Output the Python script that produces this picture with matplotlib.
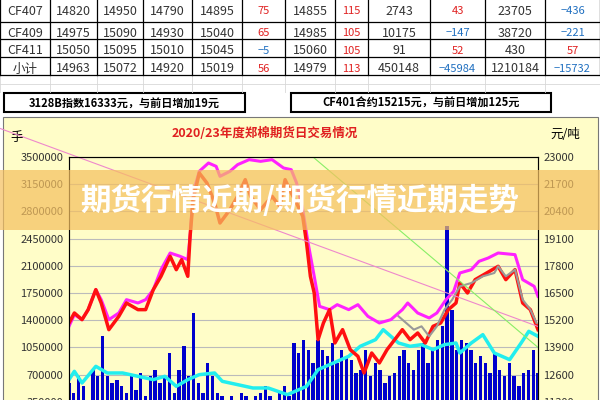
import matplotlib
matplotlib.use('Agg')
import matplotlib.pyplot as plt
from matplotlib.patches import Rectangle
import numpy as np

plt.rcParams['font.family'] = ['Noto Sans CJK SC', 'DejaVu Sans']

# table at the top
table_rows = [
    ['CF407', '14820', '14950', '14790', '14895', '75', '14855', '115', '2743', '43', '23705', '-436'],
    ['CF409', '14975', '15090', '14930', '15040', '65', '14985', '105', '10175', '-147', '38720', '-221'],
    ['CF411', '15050', '15095', '15010', '15045', '-5', '15060', '105', '91', '52', '430', '57'],
    ['小计', '14963', '15072', '14920', '15019', '56', '14979', '113', '450148', '-45984', '1210184', '-15732'],
]
colored_cols = [5, 7, 9, 11]

box_left = '3128B指数16333元，与前日增加19元'
box_right = 'CF401合约15215元，与前日增加125元'
chart_title = '2020/23年度郑棉期货日交易情况'
banner = '期货行情近期/期货行情近期走势'

# price lines (yuan/ton) by trading day
mag_day = [0, 7, 17, 25, 35, 42, 52, 65, 75, 90, 100, 110, 120, 132, 145, 155, 158, 162, 170, 182,
           192, 197, 210, 220, 235, 250, 265, 280, 290, 297, 305, 312, 320, 327, 340, 350, 365, 377, 390, 405,
           420, 435, 442, 455, 470, 480, 492, 502, 510, 525, 535, 547, 560, 582, 592, 607, 612]
mag_price = [14907, 15465, 15226, 15704, 16660, 16182, 15226, 15545, 16182, 16023, 16182, 16660, 17616, 18412,
             18253, 18094, 19209, 21280, 22315, 22713, 22554, 22076, 22315, 22634, 22873, 22793, 22873, 22474,
             22395, 21757, 20483, 18890, 17297, 15863, 15704, 15943, 15704, 15943, 15386, 15067, 15226, 15704,
             16023, 15545, 15306, 15545, 16182, 16580, 17456, 17616, 18014, 18173, 18412, 18333, 17138, 16819, 16341]

red_day = [0, 7, 17, 25, 35, 42, 52, 65, 75, 90, 100, 110, 120, 132, 140, 147, 155, 158, 162, 170,
           180, 190, 197, 210, 220, 230, 237, 250, 265, 275, 282, 290, 297, 305, 310, 315, 320, 325, 332, 340,
           347, 357, 367, 377, 385, 395, 405, 415, 425, 435, 445, 455, 465, 475, 485, 495, 505, 510, 520, 530,
           545, 560, 570, 582, 592, 602, 612]
red_price = [15067, 15545, 15226, 15704, 16660, 16023, 14748, 15386, 16023, 15704, 15704, 16660, 17297, 18253,
             17616, 18094, 17297, 19209, 20961, 22235, 21757, 20802, 19846, 20483, 21120, 21917, 21120, 20483,
             21120, 20642, 21917, 21280, 20802, 20164, 18890, 17297, 16500, 14270, 15067, 15704, 14111, 14748,
             13792, 13474, 12677, 13633, 13155, 13792, 14270, 14748, 14270, 14589, 14111, 14907, 15067, 15704,
             16023, 16978, 16500, 17138, 17456, 17775, 17138, 17616, 16023, 15704, 14748]

grey_day = [430, 440, 450, 460, 470, 480, 490, 500, 510, 525, 540, 555, 560, 570, 582, 592, 602, 610]
grey_price = [15386, 15067, 14748, 14907, 14429, 14907, 15704, 16182, 16819, 16978, 17297, 17456, 17775,
              17297, 17616, 16182, 15704, 15067]

cyan_day = [0, 7, 17, 35, 50, 70, 90, 110, 125, 140, 155, 170, 190, 200, 220, 240, 260, 285, 310, 325,
            345, 365, 380, 400, 410, 420, 430, 445, 460, 475, 490, 505, 510, 525, 540, 555, 575, 590, 600, 612]
cyan_price = [12359, 12757, 12200, 12996, 12677, 12677, 12518, 12359, 12518, 12040, 12359, 12598, 12677, 12279,
              12120, 11960, 11960, 11642, 12040, 12837, 13155, 13474, 13952, 14270, 14748, 14429, 14111, 13952,
              14031, 13792, 14031, 14111, 13633, 14111, 14509, 13633, 13314, 14111, 14668, 14429]

# daily volume, thousand lots
volume_k = [592, 463, 678, 549, 377, 763, 678, 1192, 678, 592, 635, 549, 463, 678, 506, 721, 420, 678, 763, 592,
            678, 978, 463, 763, 1064, 678, 1493, 592, 463, 849, 678, 463, 420, 377, 420, 377, 463, 420, 377, 420,
            463, 549, 420, 377, 463, 549, 420, 1107, 978, 1149, 1021, 849, 1149, 1021, 935, 1107, 849, 1021, 935, 892,
            721, 763, 1021, 678, 849, 763, 592, 678, 721, 935, 1021, 849, 763, 1021, 1107, 849, 1021, 1149, 1321, 2608,
            1535, 1021, 1149, 1107, 1021, 849, 935, 849, 721, 978, 763, 678, 849, 678, 549, 721, 763, 1021, 721]

# trend lines (price units)
pink_day = [-100, 612]
pink_price = [24500, 14900]
green_day = [270, 612]
green_price = [24500, 13900]

W, H = 600, 400
fig = plt.figure(figsize=(6, 4), dpi=100)
bg = fig.add_axes([0, 0, 1, 1])
bg.set_xlim(0, W)
bg.set_ylim(H, 0)
bg.axis('off')

# spreadsheet grid
col_lines = [0, 50, 97, 143, 192, 242, 285, 335, 368, 430, 485, 545, 600]
row_lines = [-5, 22, 39, 57, 75]
for x in col_lines:
    bg.plot([x, x], [0, 92], color='#d8d8d8', lw=0.6)
    bg.plot([x, x], [-5, 75], color='black', lw=0.9)
for y in row_lines + [84]:
    bg.plot([0, W], [y, y], color='black' if y <= 75 else '#d8d8d8', lw=0.9 if y <= 75 else 0.6)
for r, row in enumerate(table_rows):
    yc = (row_lines[r] + row_lines[r + 1]) / 2 + 3
    for c, txt in enumerate(row):
        xc = (col_lines[c] + col_lines[c + 1]) / 2
        color = '#333333'
        size = 9
        if c in colored_cols:
            color = '#1f6fc0' if txt.startswith('-') else '#e02020'
            size = 8
        bg.text(xc, yc, txt.replace('-', '−'), ha='center', va='center', fontsize=size, color=color)

for (x0, x1), txt in [((4, 245), box_left), ((291, 551), box_right)]:
    bg.add_patch(Rectangle((x0, 93), x1 - x0, 19, fill=False, ec='black', lw=1.5))
    bg.text((x0 + x1) / 2, 103, txt, ha='center', va='center', fontsize=8, fontweight='bold')

# chart frame
bg.add_patch(Rectangle((3, 117), 595, 290, fc='#fffdc8', ec='#777777', lw=0.8))
bg.text(17, 137, '手', ha='center', va='center', fontsize=9)
bg.text(565, 134, '元/吨', ha='center', va='center', fontsize=9)
bg.text(265, 133, chart_title, ha='center', va='center', fontsize=9, color='#e02020', fontweight='bold')

# chart axes: left volume, right price
left, right, top, zero = 69, 538, 157, 429
ax = fig.add_axes([left / W, 1 - zero / H, (right - left) / W, (zero - top) / H])
ax.set_facecolor('#fffdc8')
ax.set_xlim(0, 612)
ax.set_ylim(0, 3500000)
yt = np.arange(0, 3500001, 350000)
ax.set_yticks(yt)
ax.set_yticklabels([str(v) for v in yt], fontsize=8)
ax.set_xticks([])
ax.grid(axis='y', color='#bbbbbb', lw=0.8)
ax.set_axisbelow(True)
for s in ax.spines.values():
    s.set_color('#666666')
    s.set_linewidth(0.8)
bar_x = np.linspace(0, 612, len(volume_k))
ax.bar(bar_x, np.array(volume_k) * 1000, width=612 / len(volume_k) * 0.7, color='#0000cc')

ax2 = ax.twinx()
ax2.set_ylim(10000, 23000)
rt = np.arange(10000, 23001, 1300)
ax2.set_yticks(rt)
ax2.set_yticklabels([str(v) for v in rt], fontsize=8)
ax2.plot(cyan_day, cyan_price, color='#22eeee', lw=2.5)
ax2.plot(mag_day, mag_price, color='#ff22ff', lw=2.2)
ax2.plot(red_day, red_price, color='#ff1010', lw=2.5)
ax2.plot(grey_day, grey_price, color='#999999', lw=1.5)
ax2.plot(pink_day, pink_price, color='#ee88cc', lw=0.8, clip_on=False)
ax2.plot(green_day, green_price, color='#88ee66', lw=0.8)
for a in (ax, ax2):
    a.tick_params(length=0, pad=4, colors='#333333')

# overlay banner
ov = fig.add_axes([0, 0, 1, 1])
ov.set_xlim(0, W)
ov.set_ylim(H, 0)
ov.axis('off')
ov.add_patch(Rectangle((0, 170), W, 60, fc='#f5c060', alpha=0.72, lw=0))
ov.text(300, 201, banner, ha='center', va='center', fontsize=22, color='white', fontweight='bold')

fig.savefig('out.png', dpi=100)
